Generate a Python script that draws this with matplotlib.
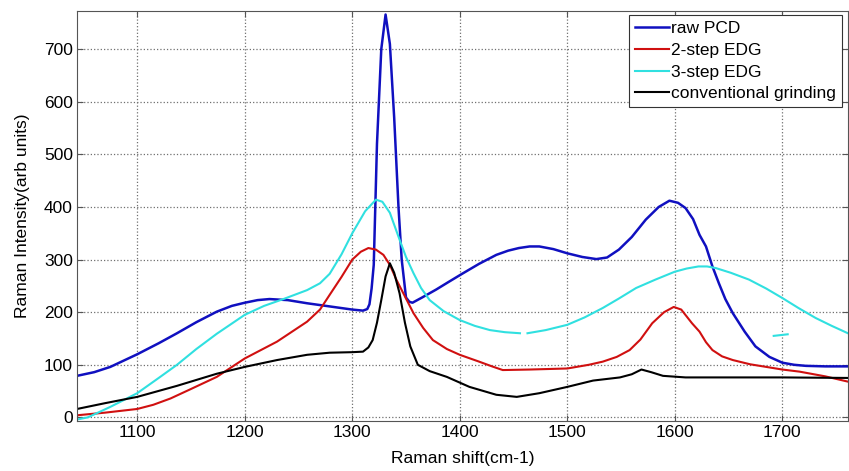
import matplotlib
matplotlib.use('Agg')
import matplotlib.pyplot as plt
import numpy as np

plt.rcParams['font.family'] = ['Liberation Sans', 'DejaVu Sans']

# raw PCD
x_raw = [1044, 1060, 1075, 1100, 1120, 1137, 1155, 1174, 1188, 1200, 1212, 1223, 1240, 1258,
         1279, 1300, 1310, 1314, 1316, 1318, 1320, 1323, 1327, 1331, 1335, 1339, 1343, 1346,
         1350, 1353, 1356, 1365, 1378, 1390, 1403, 1418, 1434, 1445, 1455, 1465, 1474, 1487,
         1500, 1514, 1527, 1537, 1548, 1560, 1573, 1585, 1595, 1603, 1610, 1617, 1623, 1629,
         1635, 1641, 1647, 1654, 1665, 1675, 1688, 1700, 1711, 1722, 1740, 1761]
y_raw = [79, 86, 96, 120, 141, 160, 181, 201, 212, 218, 223, 225, 223, 217,
         211, 205, 203, 206, 215, 245, 290, 520, 700, 766, 710, 570, 400, 300,
         228, 220, 218, 228, 243, 258, 274, 292, 309, 317, 322, 325, 325, 320,
         312, 305, 301, 304, 319, 343, 376, 400, 412, 408, 398, 377, 347, 325,
         287, 255, 225, 198, 163, 135, 115, 104, 100, 98, 97, 97]

# 2-step EDG
x_two = [1044, 1070, 1100, 1115, 1131, 1150, 1174, 1200, 1230, 1258, 1270, 1279, 1290, 1300,
         1308, 1315, 1322, 1329, 1335, 1341, 1349, 1357, 1366, 1375, 1388, 1400, 1418, 1430,
         1440, 1465, 1500, 1520, 1533, 1546, 1558, 1568, 1579, 1590, 1599, 1606, 1616, 1623,
         1629, 1635, 1644, 1654, 1670, 1685, 1700, 1716, 1740, 1761]
y_two = [4, 9, 16, 24, 36, 54, 77, 112, 144, 182, 205, 233, 267, 300,
         315, 322, 319, 309, 290, 262, 230, 198, 170, 147, 130, 119, 106, 97,
         90, 91, 93, 100, 106, 115, 128, 148, 179, 200, 210, 205, 179, 163,
         143, 128, 116, 109, 101, 96, 91, 87, 78, 68]

# 3-step EDG (has a small gap and a stray dash in the original)
x_three = [1044, 1054, 1075, 1100, 1120, 1137, 1155, 1174, 1200, 1218, 1236, 1258, 1270, 1279,
           1290, 1300, 1312, 1322, 1328, 1335, 1344, 1350, 1357, 1364, 1372, 1385, 1400, 1414,
           1428, 1442, 1456, np.nan, 1463, 1480, 1500, 1516, 1533, 1548, 1564, 1582, 1600, 1611,
           1622, 1630, 1638, 1652, 1669, 1685, 1700, 1715, 1731, 1746, 1761, np.nan, 1692, 1705]
y_three = [-4, 0, 20, 46, 75, 100, 130, 159, 195, 212, 225, 242, 255, 273,
           310, 350, 392, 414, 410, 389, 338, 305, 274, 246, 223, 202, 185, 174,
           166, 162, 160, np.nan, 160, 166, 176, 190, 208, 226, 246, 262, 277, 283,
           287, 287, 284, 275, 262, 245, 227, 208, 189, 174, 160, np.nan, 155, 158]

# conventional grinding
x_conv = [1044, 1070, 1100, 1137, 1174, 1200, 1230, 1258, 1279, 1300, 1310, 1315, 1319, 1323,
          1327, 1331, 1335, 1339, 1344, 1349, 1354, 1361, 1372, 1388, 1409, 1434, 1453, 1474,
          1500, 1524, 1549, 1560, 1569, 1578, 1589, 1610, 1642, 1700, 1761]
y_conv = [16, 27, 39, 60, 83, 96, 109, 119, 123, 124, 125, 133, 147, 180,
          223, 268, 293, 275, 236, 180, 135, 100, 88, 77, 58, 43, 39, 46,
          58, 70, 76, 82, 91, 86, 79, 76, 76, 76, 75]

fig = plt.figure(figsize=(8.49, 4.71), dpi=100)
ax = fig.add_axes([0.0907, 0.106, 0.908, 0.871])

ax.plot(x_raw, y_raw, '-', color='#1010c0', linewidth=1.8, label='raw PCD')
ax.plot(x_two, y_two, '-', color='#d01010', linewidth=1.5, label='2-step EDG')
ax.plot(x_three, y_three, '-', color='#30e0e0', linewidth=1.5, label='3-step EDG')
ax.plot(x_conv, y_conv, '-', color='k', linewidth=1.5, label='conventional grinding')

ax.set_xlim(1044, 1761)
ax.set_ylim(-7, 773)
ax.set_xticks(np.arange(1100, 1701, 100))
ax.set_yticks(np.arange(0, 701, 100))
ax.grid(True, linestyle=':', color='#707070', linewidth=0.9)
ax.tick_params(direction='in', top=True, right=True, labelsize=12.5, length=4,
               color='#555555', pad=3)
for s in ax.spines.values():
    s.set_color('#555555')

ax.set_xlabel('Raman shift(cm-1)', fontsize=12.5, labelpad=8)
ax.set_ylabel('Raman Intensity(arb units)', fontsize=12.5, labelpad=10)

leg = ax.legend(loc='upper right', bbox_to_anchor=(0.9926, 0.99), fontsize=12.5,
                fancybox=False, framealpha=1, edgecolor='#333333',
                handlelength=1.95, handletextpad=0.15, borderpad=0.35,
                labelspacing=0.38, borderaxespad=0)
leg.get_frame().set_linewidth(0.8)

plt.savefig('out.png', dpi=100)
